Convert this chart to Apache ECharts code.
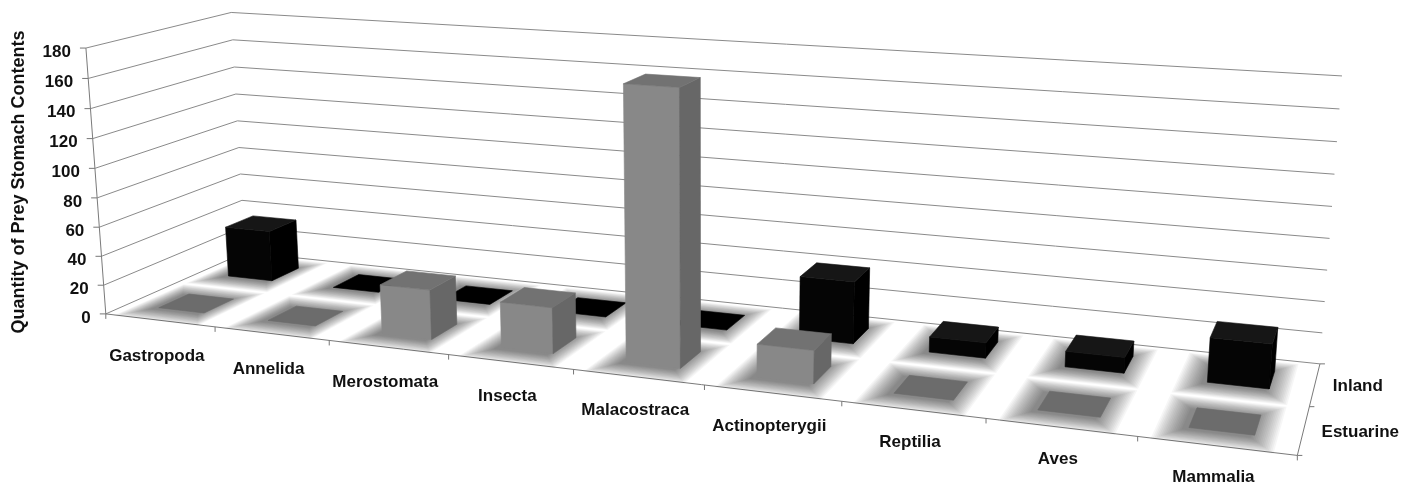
<!DOCTYPE html>
<html><head><meta charset="utf-8">
<script src="https://cdn.jsdelivr.net/npm/echarts@6/dist/echarts.min.js"></script>
<style>html,body{margin:0;padding:0;background:#fff}#c{width:1411px;height:488px}</style>
</head><body><div id="c"></div><script>
// ---------------- data ----------------
const categories = ['Gastropoda','Annelida','Merostomata','Insecta','Malacostraca','Actinopterygii','Reptilia','Aves','Mammalia'];
const rowNames = ['Estuarine','Inland'];
const estuarineValues = [0, 0, 33, 30, 175, 21, 0, 0, 0];
const inlandValues = [36, 0, 0, 0, 0, 41, 10, 10, 28];
const yTickValues = [0, 20, 40, 60, 80, 100, 120, 140, 160, 180];
const yAxisTitle = 'Quantity of Prey Stomach Contents';

// ------------- 3D frame (perspective camera fitted to frame corners) -------------
// world: X along categories (0..N), Y = fraction of value axis (0..1), Z depth rows (0 front .. 2 back)
const frameCalib = [
  [0,0,0,107,313],[0,0,2,244,255],[9,0,2,1320,362],[9,0,0,1297,458],
  [0,1,0,85,49],[0,1,2,232,12],[9,1,2,1342,78],
  [0,0.5,0,96,181],[0,0.5,2,238,134],[9,0.5,2,1331,220]
];
function solveDLT(pts){
  const A=[],b=[];
  pts.forEach(([X,Y,Z,u,v])=>{
    A.push([X,Y,Z,1,0,0,0,0,-u*X,-u*Y,-u*Z]); b.push(u);
    A.push([0,0,0,0,X,Y,Z,1,-v*X,-v*Y,-v*Z]); b.push(v);
  });
  const n=11, M=[];
  for(let i=0;i<n;i++){ M.push(new Array(n+1).fill(0)); }
  for(let r=0;r<A.length;r++){ for(let i=0;i<n;i++){ for(let j=0;j<n;j++) M[i][j]+=A[r][i]*A[r][j]; M[i][n]+=A[r][i]*b[r]; } }
  for(let c=0;c<n;c++){
    let p=c; for(let r=c+1;r<n;r++) if(Math.abs(M[r][c])>Math.abs(M[p][c])) p=r;
    const t=M[c]; M[c]=M[p]; M[p]=t;
    for(let r=0;r<n;r++){ if(r===c) continue; const f=M[r][c]/M[c][c]; for(let k=c;k<=n;k++) M[r][k]-=f*M[c][k]; }
  }
  return M.map((row,i)=>row[n]/row[i]);
}
const P = solveDLT(frameCalib);
function proj(X,Y,Z){
  const w=P[8]*X+P[9]*Y+P[10]*Z+1;
  return [(P[0]*X+P[1]*Y+P[2]*Z+P[3])/w,(P[4]*X+P[5]*Y+P[6]*Z+P[7])/w];
}
const NC = categories.length, NR = rowNames.length;
const BAR_W = 0.42, BAR_D = 0.42;
const FONT = 'bold 17px "Liberation Sans", Arial, sans-serif';
const TITLE_FONT = 'bold 18px "Liberation Sans", Arial, sans-serif';

// value -> world through the (hidden) cartesian axes of ECharts
function world(params, api, ci, val){
  const cs = params.coordSys;
  const p = api.coord([ci, val]);
  return {
    X: (p[0]-cs.x)/cs.width*NC,
    h: (cs.y+cs.height-p[1])/cs.height,
    bw: api.size([1,0])[0]/cs.width*NC
  };
}

function barRenderer(row, col){
  return function(params, api){
    const ci = api.value(0), v = api.value(1);
    const w = world(params, api, ci, v);
    const x0=w.X-w.bw*BAR_W/2, x1=w.X+w.bw*BAR_W/2;
    const zc=row+0.5, z0=zc-BAR_D/2, z1=zc+BAR_D/2, h=w.h;
    const poly=(pts,fill)=>({type:'polygon',shape:{points:pts},style:{fill:fill,stroke:fill,lineWidth:0.6}});
    if(h<=0){
      return poly([proj(x0,0,z0),proj(x1,0,z0),proj(x1,0,z1),proj(x0,0,z1)], col.flat);
    }
    return {type:'group',children:[
      poly([proj(x0,0,z0),proj(x1,0,z0),proj(x1,h,z0),proj(x0,h,z0)], col.front),
      poly([proj(x1,0,z0),proj(x1,0,z1),proj(x1,h,z1),proj(x1,h,z0)], col.side),
      poly([proj(x0,h,z0),proj(x1,h,z0),proj(x1,h,z1),proj(x0,h,z1)], col.top)
    ]};
  };
}

// soft halo on the floor around each bar base (layered translucent footprints)
function shadowRenderer(params, api){
  const ci=api.value(0), row=api.value(2);
  const w=world(params, api, ci, 0);
  const xc=w.X-0.03, zc=row+0.5-0.04;
  const children=[];
  const L=16;
  for(let k=L;k>=1;k--){
    const mx=0.011*k, mz=0.017*k;
    const x0=xc-w.bw*BAR_W/2-mx, x1=xc+w.bw*BAR_W/2+mx, z0=zc-BAR_D/2-mz, z1=zc+BAR_D/2+mz;
    children.push({type:'polygon',shape:{points:[proj(x0,0,z0),proj(x1,0,z0),proj(x1,0,z1),proj(x0,0,z1)]},
      style:{fill:'rgba(0,0,0,0.034)'}});
  }
  return {type:'group',children};
}

function gridRenderer(params, api){
  const v=api.value(1);
  const h=world(params, api, 0, v).h;
  const a=proj(0,h,0), b=proj(0,h,NR), c=proj(NC,h,NR);
  const children=[
    {type:'polyline',shape:{points:[a,b,c]},style:{stroke:'#8a8a8a',lineWidth:1,fill:null}},
    {type:'line',shape:{x1:a[0]-6,y1:a[1],x2:a[0],y2:a[1]},style:{stroke:'#777',lineWidth:1}},
    {type:'text',x:a[0]-15,y:a[1]+4,style:{text:String(v),font:FONT,fill:'#111',align:'right',verticalAlign:'middle'}}
  ];
  if(params.dataIndex===0){
    const top=world(params, api, 0, yTickValues[yTickValues.length-1]).h;
    const f0=proj(0,0,0), f1=proj(NC,0,0), r1=proj(NC,0,NR), t0=proj(0,top,0);
    children.push({type:'polyline',shape:{points:[t0,f0,f1,r1]},style:{stroke:'#7a7a7a',lineWidth:1,fill:null}});
  }
  return {type:'group',children};
}

function catLabelRenderer(params, api){
  const ci=api.value(0);
  const w=world(params, api, ci, 0);
  const a=proj(w.X,0,0);
  const t=proj(w.X-w.bw/2,0,0);
  const children=[
    {type:'line',shape:{x1:t[0],y1:t[1],x2:t[0],y2:t[1]+5},style:{stroke:'#777',lineWidth:1}},
    {type:'text',x:a[0]-3,y:a[1]+36-ci*0.6,style:{text:categories[ci],font:FONT,fill:'#111',align:'center',verticalAlign:'middle'}}
  ];
  if(ci===NC-1){
    const e=proj(w.X+w.bw/2,0,0);
    children.push({type:'line',shape:{x1:e[0],y1:e[1],x2:e[0],y2:e[1]+5},style:{stroke:'#777',lineWidth:1}});
  }
  return {type:'group',children};
}

function rowLabelRenderer(params, api){
  const row=api.value(2);
  const xr=world(params, api, NC-1, 0);
  const XE=xr.X+xr.bw/2;
  const a=proj(XE,0,row+0.5);
  const t=proj(XE,0,row);
  const children=[
    {type:'line',shape:{x1:t[0],y1:t[1],x2:t[0]+5,y2:t[1]},style:{stroke:'#777',lineWidth:1}},
    {type:'text',x:a[0]+18,y:a[1]+2,style:{text:rowNames[row],font:FONT,fill:'#111',align:'left',verticalAlign:'middle'}}
  ];
  if(row===NR-1){
    const e=proj(XE,0,NR);
    children.push({type:'line',shape:{x1:e[0],y1:e[1],x2:e[0]+5,y2:e[1]},style:{stroke:'#777',lineWidth:1}});
  }
  return {type:'group',children};
}

const shadowData=[];
inlandValues.forEach((v,i)=>shadowData.push([i,v,1]));
estuarineValues.forEach((v,i)=>shadowData.push([i,v,0]));

const chart = echarts.init(document.getElementById('c'));
chart.setOption({
  animation:false,
  backgroundColor:'#fff',
  grid:{left:0,top:0,width:900,height:180,show:false},
  xAxis:{type:'category',data:categories,show:false},
  yAxis:{type:'value',min:0,max:180,interval:20,show:false},
  graphic:[{type:'text',x:19,y:182,rotation:Math.PI/2,
    style:{text:yAxisTitle,font:TITLE_FONT,fill:'#111',align:'center',verticalAlign:'middle'}}],
  series:[
    {type:'custom',name:'grid',z:1,clip:false,silent:true,renderItem:gridRenderer,
      data:yTickValues.map(v=>[0,v])},
    {type:'custom',name:'shadow',z:2,clip:false,silent:true,renderItem:shadowRenderer,data:shadowData},
    {type:'custom',name:rowNames[1],z:3,clip:false,renderItem:barRenderer(1,{front:'#050505',side:'#000',top:'#161616',flat:'#000'}),
      data:inlandValues.map((v,i)=>[i,v])},
    {type:'custom',name:rowNames[0],z:4,clip:false,renderItem:barRenderer(0,{front:'#888888',side:'#676767',top:'#727272',flat:'#6c6c6c'}),
      data:estuarineValues.map((v,i)=>[i,v])},
    {type:'custom',name:'catLabels',z:5,clip:false,silent:true,renderItem:catLabelRenderer,
      data:categories.map((c,i)=>[i,0])},
    {type:'custom',name:'rowLabels',z:5,clip:false,silent:true,renderItem:rowLabelRenderer,
      data:rowNames.map((n,i)=>[0,0,i])}
  ]
});
</script></body></html>
